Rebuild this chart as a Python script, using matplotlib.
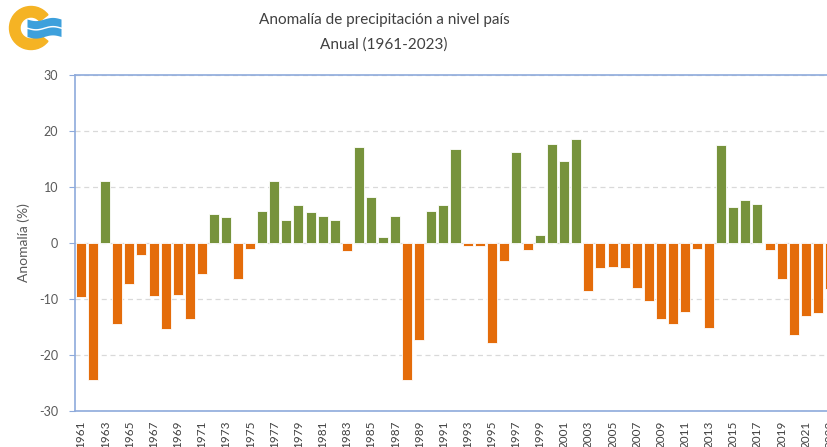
import numpy as np
import matplotlib
matplotlib.use("Agg")
import matplotlib.pyplot as plt
from matplotlib.patches import Wedge

plt.rcParams['font.family'] = ['Lato', 'DejaVu Sans']

# anomalia anual de precipitacion (%), 1961-2023
years = list(range(1961, 2024))
anomaly = [-9.6, -24.4, 11.1, -14.4, -7.3, -2.2, -9.4, -15.4, -9.2, -13.5,
           -5.6, 5.1, 4.6, -6.5, -1.1, 5.8, 11.1, 4.1, 6.8, 5.5,
           4.9, 4.1, -1.5, 17.2, 8.2, 1.0, 4.9, -24.4, -17.3, 5.8,
           6.8, 16.8, -0.6, -0.6, -17.8, -3.3, 16.3, -1.3, 1.5, 17.7,
           14.6, 18.5, -8.5, -4.4, -4.2, -4.4, -8.0, -10.4, -13.5, -14.4,
           -12.3, -1.1, -15.1, 17.5, 6.5, 7.7, 7.0, -1.3, -6.5, -16.4,
           -13.0, -12.5, -8.3]
yticks = [-30, -20, -10, 0, 10, 20, 30]

col_pos = '#77933C'
col_neg = '#E46C0A'
txt = '#595959'
spine = '#8EAADB'

fig = plt.figure(figsize=(8.27, 4.47), dpi=100)
W, H = 827, 447
# axes extends past the right edge (the original screenshot is cropped)
ax = fig.add_axes([75 / W, (H - 411) / H, 761 / W, 336 / H])

x = np.arange(len(years))
colors = [col_pos if v >= 0 else col_neg for v in anomaly]
ax.bar(x, anomaly, width=0.83, color=colors, edgecolor='white', linewidth=0.6, zorder=3)

ax.set_xlim(-0.5, len(years) - 0.5)
ax.set_ylim(-30, 30)
ax.set_yticks(yticks)
ax.set_yticklabels([str(t) for t in yticks], fontsize=9, color=txt)
ax.yaxis.grid(True, linestyle=(0, (4, 3)), color='#D9D9D9', linewidth=0.9, zorder=0)
ax.set_axisbelow(True)

ax.set_xticks(x[::2])
ax.set_xticklabels([str(y) for y in years[::2]], rotation=90, fontsize=8.5,
                   color='#404040', va='top')
ax.tick_params(axis='x', length=0, pad=7)
ax.tick_params(axis='y', length=4, color=spine, pad=8)

for s in ax.spines.values():
    s.set_color(spine)
    s.set_linewidth(1.2)

ax.set_ylabel('Anomalía (%)', fontsize=10, color=txt)
ax.yaxis.set_label_coords((30 - 75) / 761, 0.5)

fig.text(384 / W, 1 - 20 / H, 'Anomalía de precipitación a nivel país', ha='center', va='center',
         fontsize=11, color='#404040')
fig.text(384 / W, 1 - 45 / H, 'Anual (1961-2023)', ha='center', va='center',
         fontsize=11, color='#404040')

# logo, drawn in pixel units
lg = fig.add_axes([0, (H - 56) / H, 70 / W, 56 / H])
lg.set_xlim(0, 70)
lg.set_ylim(56, 0)
lg.axis('off')
lg.add_patch(Wedge((31, 28), 21.5, 38, 322, width=10.5, color='#F5B324'))
t = np.linspace(27, 61, 100)
wave = 1.6 * np.sin(2 * np.pi * (t - 27) / 34)
lg.fill_between(t, 19 + wave, 27 + wave, color='#3DA0DC', lw=0)
lg.fill_between(t, 28.5 + wave, 36.5 + wave, color='#3DA0DC', lw=0)

fig.savefig('out.png', dpi=100)
